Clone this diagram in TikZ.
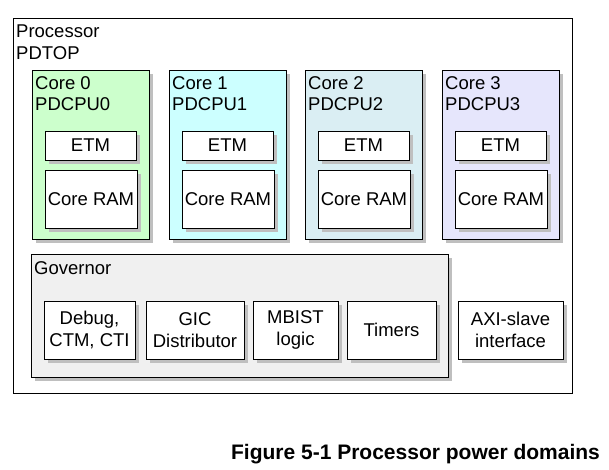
\documentclass[tikz,border=0pt]{standalone}
\usepackage{fontspec}
\setmainfont{Liberation Sans}
\usetikzlibrary{shadows,positioning}
\definecolor{cpuzero}{RGB}{204,255,204}
\definecolor{cpuone}{RGB}{204,255,255}
\definecolor{cputwo}{RGB}{218,238,243}
\definecolor{cputhree}{RGB}{230,230,252}
\definecolor{govfill}{RGB}{240,240,240}
\tikzset{
  box/.style={draw, fill=white, line width=0.9pt, inner sep=0pt, align=center,
    drop shadow={shadow xshift=4pt, shadow yshift=-4pt, fill=black!25, opacity=1},
    font=\fontsize{18.5}{22}\selectfont},
  tag/.style={anchor=base west, inner sep=0pt, font=\fontsize{18.5}{21}\selectfont}
}
\newcommand{\coredomain}[2]{\node[box, fill=#2, minimum width=117pt, minimum height=169pt] (core#1) at (90.5,154.5) {};
        			\node[tag] (corename#1) at (35,90) {Core #1};
        			\node[tag] (corepd#1) at (35,111) {PDCPU#1};
        			\node[box, minimum width=91pt, minimum height=29pt] (etm#1) at (90.5,145.5) {ETM};
        			\node[box, minimum width=92pt, minimum height=58pt] (ram#1) at (91,199) {Core RAM};}

\begin{document}
\begin{tikzpicture}[x=1pt, y=-1pt]
        			\useasboundingbox (0,0) rectangle (609,470);

					% processor
					\node[draw, line width=0.9pt, minimum width=559pt, minimum height=375pt, inner sep=0pt] (proc) at (292.5,205.5) {};
					\node[tag] (procname) at (16,38) {Processor};
					\node[tag] (procpd) at (16,59.5) {PDTOP};

					\begin{scope}[xshift = 0pt]
						\coredomain{0}{cpuzero}
					\end{scope}

					\begin{scope}[xshift = 137pt]
						\coredomain{1}{cpuone}
					\end{scope}

					\begin{scope}[xshift = 273pt]
						\coredomain{2}{cputwo}
					\end{scope}

					\begin{scope}[xshift = 410pt]
						\coredomain{3}{cputhree}
					\end{scope}

					% governor
					\node[box, fill=govfill, minimum width=417pt, minimum height=123pt] (gov) at (239.5,315.5) {};
					\node[tag] (govname) at (34,274) {Governor};
					\node[box, minimum width=91pt, minimum height=58pt] (debug) at (89.5,330) {Debug,\\CTM, CTI};
					\node[box, minimum width=98pt, minimum height=58pt] (gic) at (195,330) {GIC\\Distributor};
					\node[box, minimum width=85pt, minimum height=58pt] (mbist) at (295.5,330) {MBIST\\logic};
					\node[box, minimum width=89pt, minimum height=58pt] (timers) at (391.5,330) {Timers};
					\node[box, minimum width=105pt, minimum height=58pt] (axi) at (510.5,330) {AXI-slave\\interface};

					% caption
					\node[anchor=base, inner sep=0pt, font=\bfseries\fontsize{21}{24}\selectfont] (caption) at (415.5,459) {Figure 5-1 Processor power domains};

				\end{tikzpicture}
\end{document}
